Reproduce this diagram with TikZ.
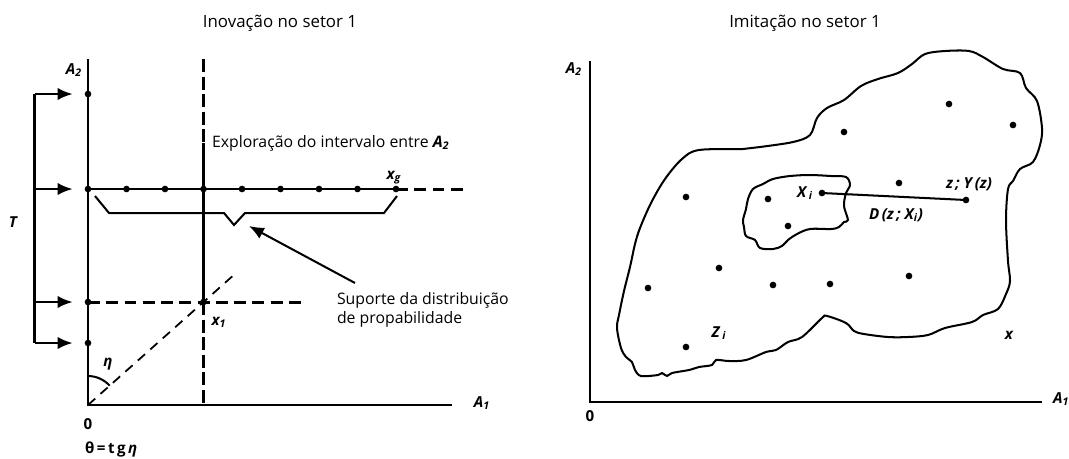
\documentclass[tikz,border=0pt]{standalone}
\usepackage{fontspec}
\setmainfont{Open Sans}
\usetikzlibrary{arrows.meta,calc,positioning}
\tikzset{dot/.style={fill=black, draw=none, circle, inner sep=0pt, minimum size=3.8pt},
  lbl/.style={font=\fontsize{8.6}{9}\selectfont\bfseries\itshape, inner sep=0pt},
  txt/.style={font=\fontsize{9}{11}\selectfont, inner sep=0pt},
  ttl/.style={font=\fontsize{9.6}{11}\selectfont, inner sep=0pt},
  axis/.style={line width=1.3pt},
  bigdash/.style={line width=1.7pt, dash pattern=on 7.4pt off 2.6pt},
  hdash/.style={line width=1.7pt, dash pattern=on 6.8pt off 3.6pt},
  thindash/.style={line width=1pt, dash pattern=on 5.5pt off 4pt},
  tip/.style={-{Latex[length=8.5pt,width=7pt]}}}

\begin{document}
\begin{tikzpicture}[x=0.02cm, y=-0.02cm, line width=1.15pt]
\useasboundingbox (0,0) rectangle (1069,458);

% innovation in sector 1

    \node[ttl] (ttl_in) at (280,23) {Inovação no setor 1};
    \coordinate (o_in) at (88,405);
    \coordinate (a2_in) at (88,59);
    \coordinate (a1_in) at (452,405);
    \draw[axis] (a2_in) -- (o_in) -- (a1_in);
    \node[lbl] (lab_a2_in) at (74,70) {A\textsubscript{2}};
    \node[lbl] (lab_a1_in) at (482,403) {A\textsubscript{1}};
    \node[lbl,font=\fontsize{8.6}{9}\selectfont\bfseries] (lab_o_in) at (88,424) {0};
    \node[lbl,font=\fontsize{8.6}{9}\selectfont\bfseries, anchor=west] (lab_th) at (84,449) {θ\,=\,t\,g\,\textit{η}};

    \node[dot] (a_t) at (88,94) {};
    \node[dot] (a_x) at (88,302) {};
    \node[dot] (a_b) at (88,343) {};
    \foreach \k in {0,...,8}
      \node[dot] (r\k) at (88+38.5*\k,189) {};
    \node[dot] (x1) at (203.5,302) {};

    % the row and its support
    \coordinate (xg_end) at (467,189);
    \draw (r0.center) -- (r8.center);
    \draw[hdash] (r8.center) -- (xg_end);
    \node[lbl] (lab_xg) at (394,178) {x\textsubscript{g}};
    \draw (95,196) -- (109,213) -- (224,213) -- (234,225) -- (245,213) -- (384,213) -- (397,196);

    % exploration line
    \coordinate (v_top) at (203.5,59);
    \coordinate (v_mid) at (203.5,143);
    \coordinate (v_foot) at (203.5,405);
    \draw[bigdash] (v_top) -- (v_mid);
    \draw (v_mid) -- (x1.center);
    \draw[bigdash] (x1.center) -- (v_foot);
    \node[txt, anchor=west] (expl) at (211,143) {Exploração do intervalo entre \textbf{\textit{A}}\textsubscript{\textbf{\textit{2}}}};

    \coordinate (x1_end) at (302,302);
    \draw[hdash] (a_x.center) -- (x1_end);
    \node[lbl] (lab_x1) at (219,322) {x\textsubscript{1}};

    \coordinate (diag_end) at (236,273);
    \draw[thindash] (o_in) -- (diag_end);
    \draw (88,376) arc[start angle=90, end angle=41.7, radius=0.58cm];
    \node[lbl] (lab_eta) at (108,364) {η};

    % the time bracket
    \coordinate (br_t) at (34.5,94);
    \coordinate (br_b) at (34.5,343);
    \draw (br_t) -- (br_b);
    \draw[tip, shorten >=6.3pt] (br_t) -- (a_t);
    \draw[tip, shorten >=6.3pt] (br_t |- r0) -- (r0);
    \draw[tip, shorten >=6.3pt] (br_t |- a_x) -- (a_x);
    \draw[tip, shorten >=6.3pt] (br_b) -- (a_b);
    \node[lbl] (lab_t) at (13,222) {T};

    \node[txt, anchor=west, align=left] (sup) at (336,310) {Suporte da distribuição\\de propabilidade};
    \coordinate (sup_tail) at (355,283);
    \coordinate (sup_tip) at (249,226);
    \draw[tip] (sup_tail) -- (sup_tip);

% imitation in sector 1

    \node[ttl] (ttl_im) at (805,23) {Imitação no setor 1};
    \coordinate (o_im) at (590,402);
    \coordinate (a2_im) at (590,61);
    \coordinate (a1_im) at (1042,402);
    \draw[axis] (a2_im) -- (o_im) -- (a1_im);
    \node[lbl] (lab_a2_im) at (574,69) {A\textsubscript{2}};
    \node[lbl, anchor=west] (lab_a1_im) at (1052,399) {A\textsubscript{1}};
    \node[lbl,font=\fontsize{8.6}{9}\selectfont\bfseries] (lab_o_im) at (590,416) {0};

    \draw plot [smooth cycle, tension=0.55] coordinates {(640,228) (651,203) (665,179) (682,159)
    (699,150) (743,149) (760,147) (793,142) (810,135) (817,118) (827,108) (844,100) (861,86)
    (878,79) (898,73) (912,64) (925,54) (945,51) (969,51) (983,57) (1003,69) (1020,73)
    (1026,88) (1037,101) (1042,128) (1040,145) (1033,162) (1020,169) (1013,181) (1008,189)
    (1006,220) (1008,261) (1010,281) (1006,294) (998,309) (983,315) (972,322) (945,328)
    (928,335) (908,337) (888,337) (864,334) (854,331) (846,323) (827,316) (822,318)
    (802,337) (788,342) (776,350) (766,352) (746,360) (729,361) (716,360) (712,365)
    (699,367) (689,370) (672,373) (667,376) (662,373) (658,375) (641,376) (635,370)
    (632,362) (626,357) (621,348) (617,328) (619,315) (624,291) (630,267) (635,244)};
    \draw plot [smooth cycle, tension=0.55] coordinates {(748,199) (753,189) (763,184) (773,179)
    (790,176) (810,175) (831,176) (846,177) (850,185) (846,193) (844,206) (848,220)
    (844,222) (839,227) (831,229) (810,229) (797,234) (788,240) (782,246) (773,249)
    (760,248) (755,240) (746,236) (744,227) (743,220) (746,209)};

    \node[dot] (p1) at (686,197) {};
    \node[dot] (p2) at (768,199) {};
    \node[dot] (xi) at (822,193) {};
    \node[dot] (p3) at (899,183) {};
    \node[dot] (zz) at (966,200) {};
    \node[dot] (p4) at (844,132) {};
    \node[dot] (p5) at (949,104) {};
    \node[dot] (p6) at (1013,125) {};
    \node[dot] (p7) at (788,226) {};
    \node[dot] (p8) at (719,268) {};
    \node[dot] (p9) at (648,288) {};
    \node[dot] (p10) at (773,285) {};
    \node[dot] (p11) at (830,284) {};
    \node[dot] (p12) at (909,276) {};
    \node[dot] (zi) at (686,347) {};
    \draw (xi.center) -- (zz.center);

    \node[lbl] (lab_xi) at (805,193) {X\,\textsubscript{i}};
    \node[lbl] (lab_z) at (969,184) {z\,; Y\,(z)};
    \node[lbl] (lab_d) at (896,215) {D\,(z\,; X\textsubscript{i})};
    \node[lbl] (lab_zi) at (719,333) {Z\,\textsubscript{i}};
    \node[lbl] (lab_x) at (1009,335) {x};

\end{tikzpicture}
\end{document}
